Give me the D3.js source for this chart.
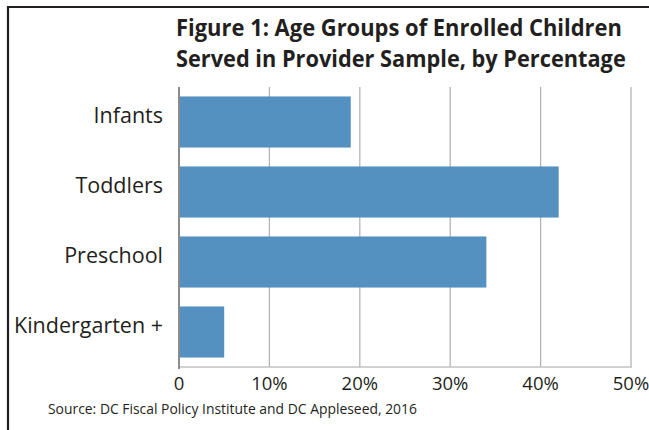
<!DOCTYPE html>
<html lang="en">
  <head>
    <meta charset="UTF-8" />
    <title>Age Groups of Enrolled Children</title>
    <style>
      body { margin: 0; background: #fff; }
      svg { display: block; }
      text { font-family: "Open Sans", sans-serif; fill: #231f20; }
      .title { font-weight: bold; font-size: 23px; }
      .cat { font-size: 21.5px; }
      .tick-label { font-size: 18.5px; }
      .source { font-size: 13.9px; }
      .grid { stroke: #b5b5b5; stroke-width: 1.3; }
      .bar { fill: #5591c0; }
    </style>
  </head>
  <body>
    <svg width="649" height="430"></svg>
    <script src="https://d3js.org/d3.v7.min.js"></script>
    <script>
      // data
      const categories = ["Infants", "Toddlers", "Preschool", "Kindergarten +"];
      const values = [19, 42, 34, 5];
      const tickValues = [0, 10, 20, 30, 40, 50];
      const tickLabels = ["0", "10%", "20%", "30%", "40%", "50%"];
      const titleLines = [
        "Figure 1: Age Groups of Enrolled Children",
        "Served in Provider Sample, by Percentage"
      ];
      const source = "Source: DC Fiscal Policy Institute and DC Appleseed, 2016";

      const svg = d3.select("svg");

      // frame (top and left rule)
      svg.append("path")
        .attr("d", "M649,7 H8 V430")
        .attr("fill", "none")
        .attr("stroke", "#231f20")
        .attr("stroke-width", 2.2);

      // title; the original face is condensed, so scale it horizontally
      const titleWidths = [446, 450];
      svg.selectAll(".title")
        .data(titleLines)
        .enter()
        .append("text")
        .attr("class", "title")
        .text(d => d)
        .each(function (d, i) {
          let k = Math.min(1, titleWidths[i] / this.getComputedTextLength());
          d3.select(this).attr(
            "transform",
            "translate(176," + (36 + i * 30.7) + ") scale(" + k + ",1)"
          );
        });

      let x = d3.scaleLinear().domain([0, 50]).range([179, 631]);
      let y = d3.scaleBand()
        .domain(categories)
        .range([87, 367])
        .paddingInner(0.27)
        .paddingOuter(0.135);

      // vertical gridlines
      svg.append("g")
        .selectAll("line")
        .data(tickValues.slice(1))
        .enter()
        .append("line")
        .attr("class", "grid")
        .attr("x1", d => x(d))
        .attr("x2", d => x(d))
        .attr("y1", 87)
        .attr("y2", 367);

      // bottom axis line
      svg.append("line")
        .attr("x1", x(0))
        .attr("x2", x(50) + 1)
        .attr("y1", 367)
        .attr("y2", 367)
        .attr("stroke", "#c2c2c2")
        .attr("stroke-width", 1.4);

      // bars
      svg.append("g")
        .selectAll(".bar")
        .data(values)
        .enter()
        .append("rect")
        .attr("class", "bar")
        .attr("x", x(0))
        .attr("y", (d, i) => y(categories[i]))
        .attr("width", d => x(d) - x(0))
        .attr("height", y.bandwidth());

      // left axis line
      svg.append("line")
        .attr("x1", x(0))
        .attr("x2", x(0))
        .attr("y1", 87)
        .attr("y2", 369)
        .attr("stroke", "#8c8c8c")
        .attr("stroke-width", 2);

      // category labels
      svg.append("g")
        .selectAll(".cat")
        .data(categories)
        .enter()
        .append("text")
        .attr("class", "cat")
        .attr("x", 163)
        .attr("y", d => y(d) + y.bandwidth() / 2)
        .attr("dy", "0.05em")
        .attr("text-anchor", "end")
        .text(d => d);

      // x tick labels
      svg.append("g")
        .selectAll(".tick-label")
        .data(tickValues)
        .enter()
        .append("text")
        .attr("class", "tick-label")
        .attr("x", d => x(d))
        .attr("y", 390)
        .attr("text-anchor", "middle")
        .text((d, i) => tickLabels[i]);

      svg.append("text")
        .attr("class", "source")
        .attr("x", 48)
        .attr("y", 414)
        .text(source);
    </script>
  </body>
</html>
